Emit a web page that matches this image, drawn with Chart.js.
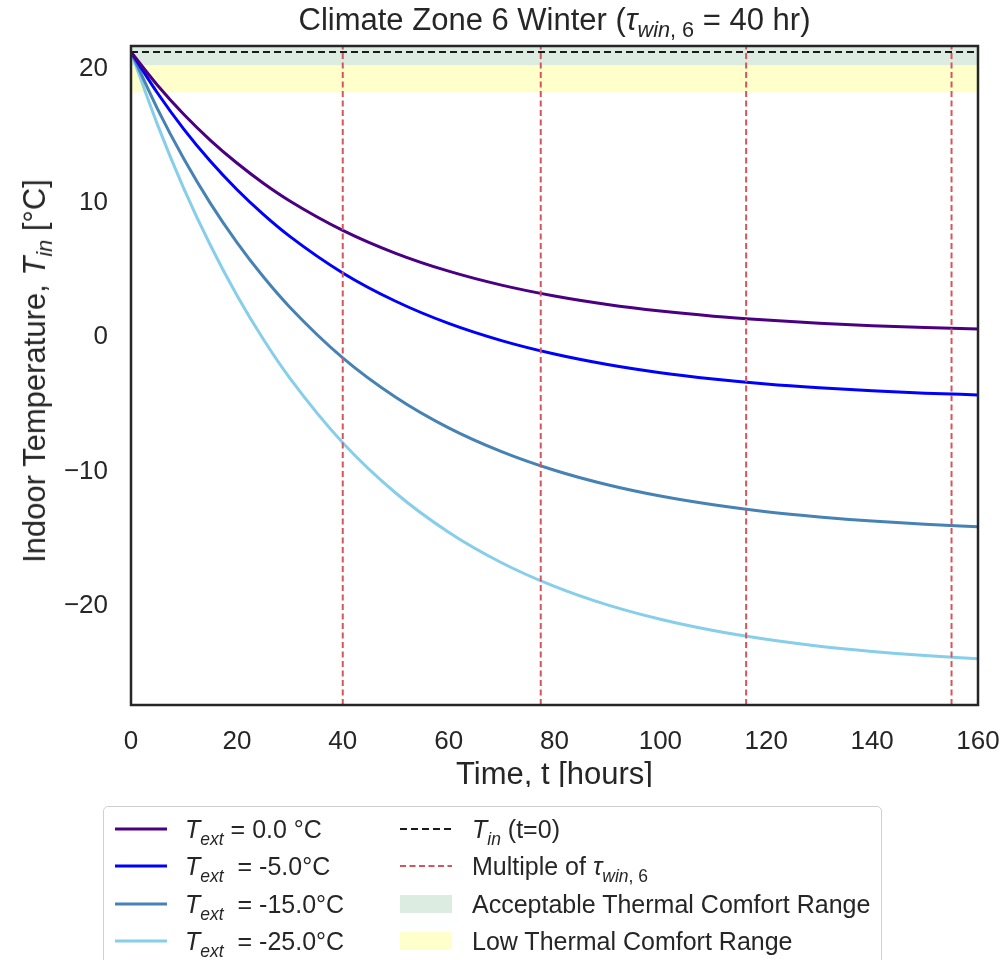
<!DOCTYPE html>
<html>
<head>
<meta charset="utf-8">
<script src="https://cdn.jsdelivr.net/npm/chart.js@4.4.1/dist/chart.umd.min.js"></script>
<style>
    body { margin: 0; background: #fff; }
    #wrap { position: relative; width: 1005px; height: 960px; overflow: hidden;
        font-family: "Liberation Sans", Arial, sans-serif; color: #262626; }
    #chart { position: absolute; left: 0; top: 0; }
    .sub { font-size: 0.7em; position: relative; top: 0.3em; line-height: 0; }
    #title { position: absolute; left: 131px; width: 847px; top: 2px; text-align: center;
        font-size: 31px; white-space: nowrap; line-height: 36px; }
    #ylab { position: absolute; left: 35px; top: 371px; font-size: 31px; white-space: nowrap;
        transform: translate(-50%, -50%) rotate(-90deg); }
    #xlab { position: absolute; left: 131px; width: 847px; top: 756px; height: 31px; overflow: hidden;
        text-align: center; font-size: 31px; line-height: 36px; white-space: nowrap; }
    #legend { position: absolute; left: 103px; top: 806px; width: 777px; height: 200px;
        border: 1px solid #d0d0d0; border-radius: 5px; font-size: 25px; }
    .item { position: absolute; height: 36px; white-space: nowrap; }
    .item svg { position: absolute; left: 0; top: 0; }
    .item span.lbl { position: absolute; top: 50%; transform: translateY(-50%); }
    .item .sub { top: 0.4em; }
</style>
</head>
<body>
<div id="wrap">
    <canvas id="chart" width="1005" height="960"></canvas>
    <div id="title">Climate Zone 6 Winter (<i>τ</i><span class="sub"><i>win</i>, 6</span> = 40 hr)</div>
    <div id="ylab">Indoor Temperature, <i>T</i><span class="sub"><i>in</i></span> [°C]</div>
    <div id="xlab">Time, t [hours]</div>
    <div id="legend"></div>
</div>
<script>
// time points (hours)
const times = [0, 5, 10, 15, 20, 25, 30, 40, 50, 60, 70, 80, 90, 100, 110, 120, 130, 140, 150, 160];

// indoor temperature for each exterior temperature
const tinExt0 = [21.0, 18.53, 16.35, 14.43, 12.74, 11.24, 9.92, 7.73, 6.02, 4.69, 3.65, 2.84, 2.21, 1.72, 1.34, 1.05, 0.81, 0.63, 0.49, 0.38];
const tinExt5 = [21.0, 17.95, 15.25, 12.87, 10.77, 8.92, 7.28, 4.56, 2.45, 0.80, -0.48, -1.48, -2.26, -2.87, -3.34, -3.71, -3.99, -4.21, -4.39, -4.52];
const tinExt15 = [21.0, 16.77, 13.04, 9.74, 6.84, 4.27, 2.01, -1.76, -4.69, -6.97, -8.74, -10.13, -11.21, -12.05, -12.70, -13.21, -13.60, -13.91, -14.15, -14.34];
const tinExt25 = [21.0, 15.60, 10.82, 6.62, 2.90, -0.38, -3.27, -8.08, -11.82, -14.74, -17.01, -18.77, -20.15, -21.22, -22.06, -22.71, -23.22, -23.61, -23.92, -24.16];

const extLabels = ['0.0 °C', '-5.0°C', '-15.0°C', '-25.0°C'];
const curveColors = ['#4b0082', '#0000ff', '#4682b4', '#87ceeb'];

const startTemp = 21;
const tauMultiples = [40.0, 77.4, 116.2, 155.0];
const acceptableRange = [20, 22];
const lowRange = [18, 20];

const xMin = 0, xMax = 160, xStep = 20;
const yMin = -27.6, yMax = 21.45, yStep = 10;

const frameColor = '#262626';
const redDash = '#d6555d';
const greenBand = '#ddece0';
const yellowBand = '#ffffcc';

function toPoints(values) {
    return times.map((t, i) => ({ x: t, y: values[i] }));
}

const bandPlugin = {
    id: 'bands',
    beforeDatasetsDraw(chart) {
        const { ctx, chartArea: a, scales: { y } } = chart;
        ctx.save();
        ctx.beginPath();
        ctx.rect(a.left, a.top, a.width, a.height);
        ctx.clip();
        [[acceptableRange, greenBand], [lowRange, yellowBand]].forEach(([r, c]) => {
            const top = y.getPixelForValue(r[1]);
            const bottom = y.getPixelForValue(r[0]);
            ctx.fillStyle = c;
            ctx.fillRect(a.left, top, a.width, bottom - top);
        });
        ctx.restore();
    }
};

const framePlugin = {
    id: 'frame',
    afterDraw(chart) {
        const { ctx, chartArea: a } = chart;
        ctx.save();
        ctx.strokeStyle = frameColor;
        ctx.lineWidth = 2.5;
        ctx.strokeRect(a.left, a.top, a.width, a.height);
        ctx.restore();
    }
};

const curves = [tinExt0, tinExt5, tinExt15, tinExt25].map((vals, i) => ({
    data: toPoints(vals),
    borderColor: curveColors[i],
    borderWidth: 3,
    pointRadius: 0,
    cubicInterpolationMode: 'monotone',
    order: 3
}));

const startLine = {
    data: [{ x: xMin, y: startTemp }, { x: xMax, y: startTemp }],
    borderColor: '#1a1a1a',
    borderWidth: 2,
    borderDash: [7, 4],
    pointRadius: 0,
    order: 2
};

const tauLines = tauMultiples.map((m) => ({
    data: [{ x: m, y: yMin }, { x: m, y: yMax }],
    borderColor: redDash,
    borderWidth: 2,
    borderDash: [6, 3.5],
    pointRadius: 0,
    order: 1
}));

new Chart(document.getElementById('chart').getContext('2d'), {
    type: 'line',
    data: { datasets: [...curves, startLine, ...tauLines] },
    options: {
        responsive: false,
        animation: false,
        devicePixelRatio: 1,
        layout: { padding: { left: 0, right: 27, top: 46, bottom: 195 } },
        plugins: { legend: { display: false }, tooltip: { enabled: false } },
        scales: {
            x: {
                type: 'linear',
                min: xMin,
                max: xMax,
                grid: { display: false, drawTicks: false },
                border: { display: false },
                ticks: {
                    stepSize: xStep,
                    padding: 21,
                    color: frameColor,
                    font: { family: 'Liberation Sans', size: 26 }
                },
                afterFit(scale) {
                    scale.height = 60;
                    scale.paddingLeft = 0;
                    scale.paddingRight = 0;
                }
            },
            y: {
                min: yMin,
                max: yMax,
                grid: { display: false, drawTicks: false },
                border: { display: false },
                ticks: {
                    stepSize: yStep,
                    includeBounds: false,
                    padding: 23,
                    labelOffset: 3,
                    color: frameColor,
                    font: { family: 'Liberation Sans', size: 26 },
                    callback: (v) => String(v).replace('-', '\u2212')
                },
                afterFit(scale) { scale.width = 131; }
            }
        }
    },
    plugins: [bandPlugin, framePlugin]
});

// legend below the plot
const legend = document.getElementById('legend');
const rowY = [4, 41, 79, 116];

function addItem(col, row, sampleSvg, html) {
    const left = col === 0 ? 9 : 294;
    const textLeft = col === 0 ? 81 : 368;
    const el = document.createElement('div');
    el.className = 'item';
    el.style.left = left + 'px';
    el.style.top = rowY[row] + 'px';
    el.style.width = '480px';
    el.innerHTML = `<svg width="56" height="36">${sampleSvg}</svg>` +
        `<span class="lbl" style="left:${textLeft - left}px">${html}</span>`;
    legend.appendChild(el);
}

curveColors.forEach((c, i) => {
    const spacing = i === 0 ? ' ' : '&nbsp; ';
    addItem(0, i, `<line x1="2" y1="18" x2="54" y2="18" stroke="${c}" stroke-width="3"/>`,
        `<i>T</i><span class="sub"><i>ext</i></span>${spacing}= ${extLabels[i]}`);
});
addItem(1, 0, `<line x1="2" y1="18" x2="54" y2="18" stroke="#1a1a1a" stroke-width="2" stroke-dasharray="7 4"/>`,
    `<i>T</i><span class="sub"><i>in</i></span> (t=0)`);
addItem(1, 1, `<line x1="2" y1="18" x2="54" y2="18" stroke="${redDash}" stroke-width="2" stroke-dasharray="6 3.5"/>`,
    `Multiple of <i>τ</i><span class="sub"><i>win</i>, 6</span>`);
addItem(1, 2, `<rect x="2" y="9" width="52" height="18" fill="${greenBand}"/>`,
    'Acceptable Thermal Comfort Range');
addItem(1, 3, `<rect x="2" y="9" width="52" height="18" fill="${yellowBand}"/>`,
    'Low Thermal Comfort Range');
</script>
</body>
</html>
